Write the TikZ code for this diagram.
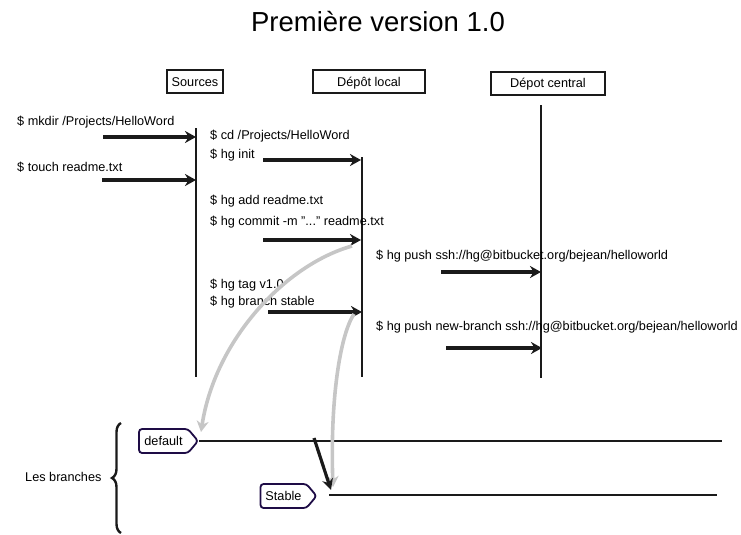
\documentclass[tikz,border=0pt]{standalone}
\usepackage{fontspec}
\setmainfont{Liberation Sans}
\usetikzlibrary{arrows.meta,shapes.symbols,decorations.pathreplacing}
\definecolor{tagc}{HTML}{1E0C46}
\definecolor{ghostc}{HTML}{C6C6C6}
\definecolor{inkc}{HTML}{1A1A1A}
\begin{document}
\begin{tikzpicture}[x=1pt,y=-1pt,
  txt/.style={font=\fontsize{12.7}{15}\selectfont},
  lbl/.style={txt, inner sep=0pt, anchor=west},
  hdr/.style={txt, draw=inkc, line width=1.8pt, minimum height=23pt, inner sep=0pt, text height=9pt, text depth=0pt},
  life/.style={draw=inkc, line width=1.4pt},
  msg/.style={draw=inkc, line width=3.6pt, -{Stealth[length=11pt,width=12pt]}},
  ghost/.style={draw=ghostc, line width=3.6pt, -{Stealth[length=11pt,width=12pt]}},
  tagbox/.style={txt, draw=tagc, line width=1.8pt, shape=signal, signal to=east, signal pointer angle=100, rounded corners=3pt, minimum height=24pt, inner sep=0pt},
  branch/.style={draw=inkc, line width=1.4pt}]
\useasboundingbox (0,0) rectangle (741,535);

% title
\node[font=\fontsize{27.5}{32}\selectfont, anchor=base] (title) at (378,32) {Première version 1.0};

% headers
\node[hdr, minimum width=56pt] (src) at (195,81.5) {Sources};
\node[hdr, minimum width=112pt] (loc) at (369,81.5) {Dépôt local};
\node[hdr, minimum width=114pt] (cen) at (548,83.5) {Dépot central};

% lifelines
\coordinate (srcT) at (196,128); \coordinate (srcB) at (196,377);
\coordinate (locT) at (362,157); \coordinate (locB) at (362,377);
\coordinate (cenT) at (541,105); \coordinate (cenB) at (541,378);
\draw[life] (srcT) -- (srcB);
\draw[life] (locT) -- (locB);
\draw[life] (cenT) -- (cenB);

% labels
\node[lbl] (t1) at (17,122) {\$ mkdir /Projects/HelloWord};
\node[lbl] (t2) at (17,167) {\$ touch readme.txt};
\node[lbl] (t3) at (210,136) {\$ cd /Projects/HelloWord};
\node[lbl] (t4) at (210,155) {\$ hg init};
\node[lbl] (t5) at (210,201) {\$ hg add readme.txt};
\node[lbl] (t6) at (210,222) {\$ hg commit -m "..." readme.txt};
\node[lbl] (t7) at (376,256) {\$ hg push ssh://hg@bitbucket.org/bejean/helloworld};
\node[lbl] (t8) at (210,285) {\$ hg tag v1.0};
\node[lbl] (t9) at (210,302) {\$ hg branch stable};
\node[lbl] (t10) at (376,327) {\$ hg push new-branch ssh://hg@bitbucket.org/bejean/helloworld};

% message arrows
\coordinate (a1s) at (103,137); \coordinate (a1e) at (196,137);
\coordinate (a2s) at (102,180); \coordinate (a2e) at (196,180);
\coordinate (a3s) at (263,160); \coordinate (a3e) at (361,160);
\coordinate (a4s) at (263,240); \coordinate (a4e) at (361,240);
\coordinate (a5s) at (441,272); \coordinate (a5e) at (541,272);
\coordinate (a6s) at (268,312); \coordinate (a6e) at (362,312);
\coordinate (a7s) at (446,348); \coordinate (a7e) at (542,348);
\draw[msg] (a1s) -- (a1e);
\draw[msg] (a2s) -- (a2e);
\draw[msg] (a3s) -- (a3e);
\draw[msg] (a4s) -- (a4e);
\draw[msg] (a5s) -- (a5e);
\draw[msg] (a6s) -- (a6e);
\draw[msg] (a7s) -- (a7e);

% branches
\node[lbl] (les) at (25,477) {Les branches};
\coordinate (brB) at (121,533); \coordinate (brT) at (121,423);
\draw[draw=inkc, line width=2.4pt, decorate, decoration={brace, amplitude=9pt, aspect=0.5}] (brB) -- (brT);

\node[tagbox, minimum width=59pt] (def) at (163.5,441) {default};
\node[tagbox, minimum width=56pt] (stb) at (283.5,496) {Stable};
\coordinate (defE) at (722,441);
\coordinate (stbS) at (329,495); \coordinate (stbE) at (717,495);
\draw[branch] (def.east) -- (defE);
\draw[branch] (stbS) -- (stbE);

% ghost arrows
\coordinate (g1s) at (352,246); \coordinate (g1e) at (201,432);
\coordinate (g2s) at (354,314); \coordinate (g2e) at (333,487);
\draw[ghost] (g1s) .. controls (285,265) and (215,340) .. (g1e);
\draw[ghost] (g2s) .. controls (340,335) and (330,400) .. (g2e);

% branch creation arrow
\coordinate (bs) at (314,438); \coordinate (be) at (331,490);
\draw[draw=inkc, line width=3.2pt, -{Stealth[length=11pt,width=11pt]}] (bs) -- (be);
\end{tikzpicture}
\end{document}
